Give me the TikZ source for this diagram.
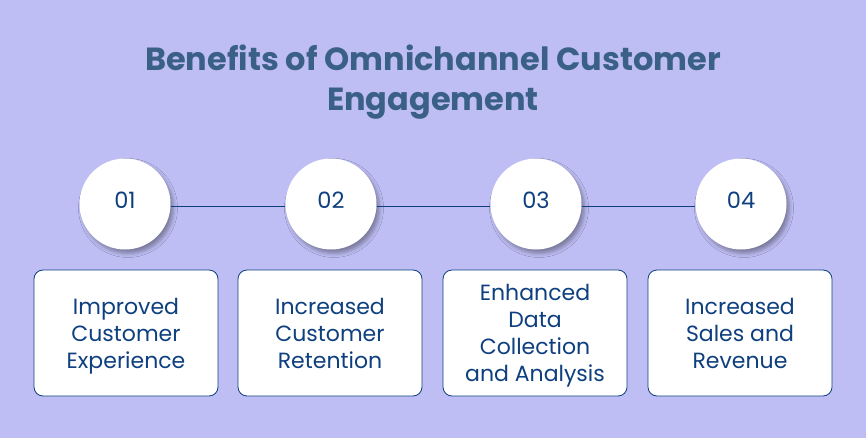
\documentclass[tikz,border=0pt]{standalone}
\usepackage{fontspec}
\setmainfont{Poppins}
\usetikzlibrary{shadows.blur}
\definecolor{bg}{HTML}{BEBEF5}
\definecolor{titlec}{HTML}{3B6088}
\definecolor{dblue}{HTML}{0E3F7E}
\tikzset{
  numcircle/.style={circle, fill=white, minimum size=91pt, inner sep=0pt,
    font=\fontsize{22.5}{26}\selectfont, text=dblue,
    blur shadow={shadow xshift=3pt, shadow yshift=-4pt, shadow blur radius=4pt, shadow opacity=35}},
  benbox/.style={draw=dblue, line width=0.8pt, fill=white, rounded corners=9pt,
    minimum width=184pt, minimum height=126pt, inner sep=0pt, align=center,
    font=\fontsize{22}{27}\selectfont, text=dblue},
  link/.style={draw=dblue, line width=0.8pt}
}
\newcommand{\numtxt}[1]{\raisebox{4pt}[\height][\depth]{#1}}
\newcommand{\boxtxt}[1]{\raisebox{-3pt}[\height][\depth]{\begin{tabular}{@{}c@{}}#1\end{tabular}}}
\begin{document}
\begin{tikzpicture}[x=1pt,y=-1pt]
\fill[bg] (0,0) rectangle (866,438);
\useasboundingbox (0,0) rectangle (866,438);
\node[font=\bfseries\fontsize{32}{40}\selectfont, text=titlec, align=center] (title) at (433,82)
  {Benefits of Omnichannel Customer\\Engagement};
\node[benbox] (b1) at (126,333) {\boxtxt{Improved\\Customer\\Experience}};
\node[benbox] (b2) at (330,333) {\boxtxt{Increased\\Customer\\Retention}};
\node[benbox] (b3) at (535,333) {\boxtxt{Enhanced\\Data\\Collection\\and Analysis}};
\node[benbox] (b4) at (740,333) {\boxtxt{Increased\\Sales and\\Revenue}};
\node[numcircle] (c1) at (125,204) {\numtxt{01}};
\node[numcircle] (c2) at (331,204) {\numtxt{02}};
\node[numcircle] (c3) at (536,204) {\numtxt{03}};
\node[numcircle] (c4) at (741,204) {\numtxt{04}};
\draw[link] ([yshift=-2pt]c1.east) -- ([yshift=-2pt]c2.west);
\draw[link] ([yshift=-2pt]c2.east) -- ([yshift=-2pt]c3.west);
\draw[link] ([yshift=-2pt]c3.east) -- ([yshift=-2pt]c4.west);
\end{tikzpicture}
\end{document}
